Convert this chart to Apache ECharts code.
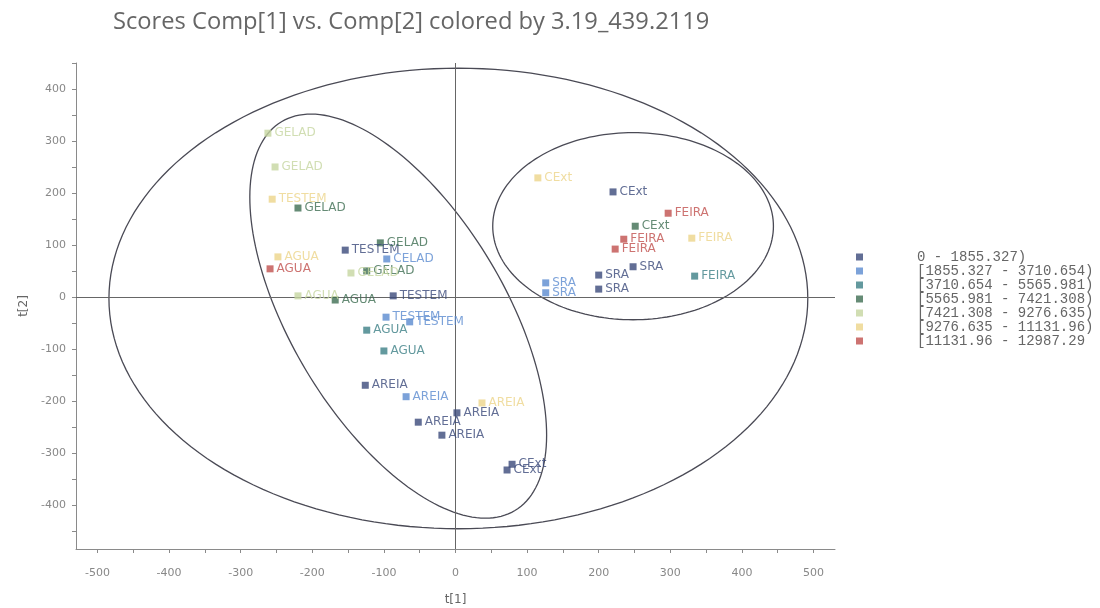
<!DOCTYPE html>
<html><head><meta charset="utf-8">
<script src="https://cdn.jsdelivr.net/npm/echarts@6/dist/echarts.min.js"></script>
<style>html,body{margin:0;padding:0;background:#fff}#c{width:1100px;height:608px}</style>
</head><body><div id="c"></div><script>
const chartTitle = 'Scores Comp[1] vs. Comp[2] colored by 3.19_439.2119';
const xName = 't[1]';
const yName = 't[2]';
const classNames = ['0 - 1855.327)', '[1855.327 - 3710.654)', '[3710.654 - 5565.981)', '[5565.981 - 7421.308)', '[7421.308 - 9276.635)', '[9276.635 - 11131.96)', '[11131.96 - 12987.29'];
const palette = ['#3b4a7a', '#5b8bd0', '#3c7f86', '#3f6e52', '#c5d6a0', '#ecd58a', '#c0504d'];

// points per colour class: [t1, t2, label]
const class0 = [[-154, 90, 'TESTEM'], [-87, 2, 'TESTEM'], [-126, -170, 'AREIA'], [2, -223, 'AREIA'], [-52, -241, 'AREIA'], [-19, -266, 'AREIA'], [79, -322, 'CExt'], [72, -333, 'CExt'], [220, 202, 'CExt'], [248, 58, 'SRA'], [200, 42, 'SRA'], [200, 15, 'SRA']];
const class1 = [[-96, 73, 'CELAD'], [-97, -39, 'TESTEM'], [-64, -48, 'TESTEM'], [-69, -192, 'AREIA'], [126, 27, 'SRA'], [126, 8, 'SRA']];
const class2 = [[-124, -64, 'AGUA'], [-100, -104, 'AGUA'], [334, 40, 'FEIRA']];
const class3 = [[-105, 104, 'GELAD'], [-124, 50, 'GELAD'], [-220, 171, 'GELAD'], [-168, -6, 'AGUA'], [251, 136, 'CExt']];
const class4 = [[-262, 315, 'GELAD'], [-252, 250, 'GELAD'], [-146, 46, 'GELAD'], [-220, 2, 'AGUA']];
const class5 = [[-256, 188, 'TESTEM'], [-248, 77, 'AGUA'], [115, 229, 'CExt'], [330, 113, 'FEIRA'], [37, -204, 'AREIA']];
const class6 = [[-259, 54, 'AGUA'], [297, 161, 'FEIRA'], [235, 111, 'FEIRA'], [223, 92, 'FEIRA']];
const classes = [class0, class1, class2, class3, class4, class5, class6];

// ellipses: [centre t1, centre t2, axis1 dt1, axis1 dt2, axis2 dt1, axis2 dt2]
const ellipseBig = [4, -3, 488, 0, 0, 443];
const ellipseLeft = [-80, -37, 163, -374, -128, -106];
const ellipseRight = [248, 136, 196, 0, 0, 180];
const ellipses = [ellipseBig, ellipseLeft, ellipseRight];

const xLabelValues = [-500, -400, -300, -200, -100, 0, 100, 200, 300, 400, 500];
const yLabelValues = [-400, -300, -200, -100, 0, 100, 200, 300, 400];
const xTickValues = [-500, -450, -400, -350, -300, -250, -200, -150, -100, -50, 0, 50, 100, 150, 200, 250, 300, 350, 400, 450, 500];
const yTickValues = [-450, -400, -350, -300, -250, -200, -150, -100, -50, 0, 50, 100, 150, 200, 250, 300, 350, 400, 450];
const xRange = [-530, 530];
const yRange = [-485, 450];

const chart = echarts.init(document.getElementById('c'));
const axisCommon = {
  axisLine: { show: true, onZero: false, lineStyle: { color: '#8a8a8a', width: 1 } },
  axisTick: { show: true, length: 4, lineStyle: { color: '#8a8a8a' } },
  splitLine: { show: false },
  nameTextStyle: { color: '#666', fontSize: 12, fontFamily: 'DejaVu Sans' }
};
const series = classes.map((pts, i) => ({
  name: classNames[i],
  type: 'scatter',
  symbol: 'rect',
  symbolSize: 7,
  itemStyle: { color: palette[i] },
  data: pts,
  z: 5,
  label: {
    show: true, position: 'right', distance: 3,
    formatter: p => p.data[2],
    color: palette[i], fontSize: 12, fontFamily: 'DejaVu Sans'
  }
}));
series.push({
  type: 'custom',
  silent: true,
  z: 3,
  data: ellipses,
  renderItem: function (params, api) {
    const e = ellipses[params.dataIndex];
    const pts = [];
    const n = 180;
    for (let k = 0; k <= n; k++) {
      const t = 2 * Math.PI * k / n;
      pts.push(api.coord([e[0] + e[2] * Math.cos(t) + e[4] * Math.sin(t), e[1] + e[3] * Math.cos(t) + e[5] * Math.sin(t)]));
    }
    return { type: 'polyline', shape: { points: pts }, style: { stroke: '#4a4a55', lineWidth: 1.3, fill: null } };
  }
});
series.push({
  type: 'scatter', data: [], silent: true,
  markLine: {
    silent: true, symbol: 'none', label: { show: false },
    lineStyle: { color: '#666', width: 1, type: 'solid' },
    data: [{ xAxis: 0 }, { yAxis: 0 }]
  }
});

chart.setOption({
  backgroundColor: '#fff',
  animation: false,
  title: {
    text: chartTitle, left: 108, top: 5,
    textStyle: { color: '#666', fontSize: 23.7, fontWeight: 'normal', fontFamily: 'Open Sans' }
  },
  legend: {
    orient: 'vertical', left: 851, top: 245,
    itemWidth: 7, itemHeight: 7, itemGap: 0,
    icon: 'rect',
    data: classNames,
    textStyle: { color: '#666', fontSize: 14, lineHeight: 14, fontFamily: 'Liberation Mono', padding: [0, 0, 0, 49] }
  },
  grid: { left: 76, right: 265, top: 63, bottom: 59, containLabel: false, outerBoundsMode: 'none' },
  xAxis: Object.assign({}, axisCommon, {
    type: 'value', min: xRange[0], max: xRange[1],
    name: xName, nameLocation: 'middle', nameGap: 45,
    axisTick: Object.assign({}, axisCommon.axisTick, { customValues: xTickValues }),
    axisLabel: { customValues: xLabelValues, color: '#888', fontSize: 11, fontFamily: 'DejaVu Sans', margin: 19 }
  }),
  yAxis: Object.assign({}, axisCommon, {
    type: 'value', min: yRange[0], max: yRange[1],
    name: yName, nameLocation: 'middle', nameGap: 46,
    axisTick: Object.assign({}, axisCommon.axisTick, { customValues: yTickValues }),
    axisLabel: { customValues: yLabelValues, color: '#888', fontSize: 11, fontFamily: 'DejaVu Sans', margin: 10 }
  }),
  series: series
});
</script></body></html>
